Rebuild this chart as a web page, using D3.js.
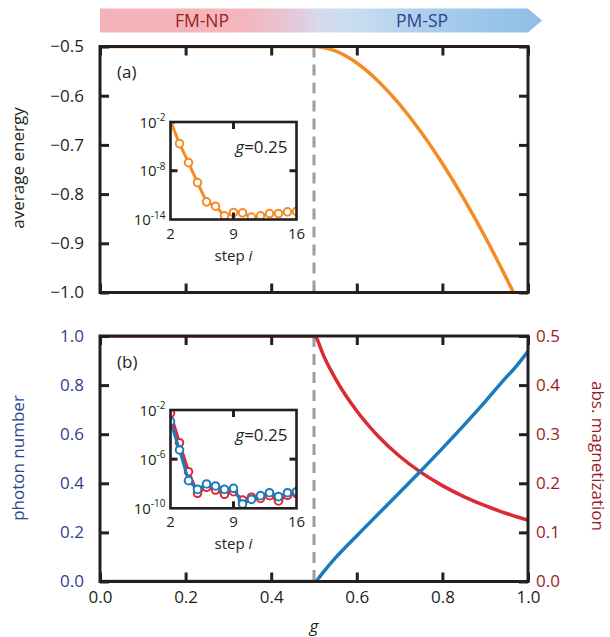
<!DOCTYPE html>
<html>
<head>
<meta charset="utf-8">
<script src="https://cdn.jsdelivr.net/npm/d3@7"></script>
<style>
  html, body { margin: 0; padding: 0; background: #fff; }
  svg { display: block; font-family: "Open Sans", "Noto Sans", sans-serif; }
</style>
</head>
<body>
<svg id="chart" width="610" height="637"></svg>
<script>
// ---- coupling grid and observables (main panels) ----
const gValues      = [0, 0.2, 0.4, 0.49, 0.5, 0.505, 0.51, 0.52, 0.55, 0.6, 0.65, 0.7, 0.75, 0.8, 0.85, 0.9, 0.95, 0.965, 1.0];
const avgEnergy    = [-0.5, -0.5, -0.5, -0.5, -0.5, -0.5001, -0.5004, -0.5016, -0.5091, -0.5336, -0.5704, -0.6176, -0.6736, -0.7377, -0.809, -0.8872, -0.9718, -0.998, -1.0625];
const photonNumber = [0, 0, 0, 0, 0, 0.002, 0.012, 0.034, 0.0959, 0.1864, 0.2746, 0.3625, 0.4514, 0.5424, 0.636, 0.7329, 0.8333, 0.8614, 0.9375];
const absMagnet    = [0.5, 0.5, 0.5, 0.5, 0.4998, 0.4975, 0.488, 0.465, 0.4132, 0.3472, 0.2959, 0.2551, 0.2222, 0.1953, 0.173, 0.1543, 0.1385, 0.1342, 0.125];
const criticalG = 0.5;

// ---- convergence vs. step i at g = 0.25 (insets), log10 of error ----
const steps        = [2, 3, 4, 5, 6, 7, 8, 9, 10, 11, 12, 13, 14, 15, 16];
const energyErrLog = [-1.9, -4.66, -7.0, -9.46, -11.83, -12.36, -13.55, -13.14, -13.18, -13.7, -13.55, -13.27, -13.27, -13.06, -13.0];
const magnErrLog   = [-2.27, -4.66, -7.02, -8.78, -8.29, -8.51, -8.86, -8.65, -9.32, -9.1, -9.2, -8.97, -9.4, -8.94, -8.8];
const photonErrLog = [-2.95, -5.25, -7.75, -8.46, -8.02, -8.18, -8.46, -8.37, -9.65, -9.27, -8.97, -8.73, -9.05, -8.73, -8.65];

// ---- tick labels ----
const xTicks      = [0, 0.2, 0.4, 0.6, 0.8, 1.0];
const energyTicks = [-0.5, -0.6, -0.7, -0.8, -0.9, -1.0];
const photonTicks = [0, 0.2, 0.4, 0.6, 0.8, 1.0];
const magnTicks   = [0, 0.1, 0.2, 0.3, 0.4, 0.5];
const insetXTicks = [2, 9, 16];
const insetAExp   = [-2, -8, -14];
const insetBExp   = [-2, -6, -10];
const phaseLabels = ["FM-NP", "PM-SP"];

// ---- colours ----
const INK = "#231f20";
const ORANGE = "#f58b25";
const BLUE = "#1c7bbd";
const RED = "#dc2a32";
const NAVY = "#2e4290";
const DARKRED = "#9b1c22";
const GREY = "#9d9d9f";

const svg = d3.select("#chart");
const defs = svg.append("defs");

// ---- geometry ----
const L = 100, R = 528;
const aTop = 46.5, aBot = 292.5;
const bTop = 336, bBot = 581.5;

const x = d3.scaleLinear().domain([0, 1]).range([L, R]);
const yE = d3.scaleLinear().domain([-1, -0.5]).range([aBot, aTop]);
const yN = d3.scaleLinear().domain([0, 1]).range([bBot, bTop]);
const yM = d3.scaleLinear().domain([0, 0.5]).range([bBot, bTop]);

// ---- phase arrow ----
const grad = defs.append("linearGradient").attr("id", "phaseGrad")
  .attr("x1", "0%").attr("x2", "100%").attr("y1", "0%").attr("y2", "0%");
[[0, "#f4b3b8"], [0.33, "#f4b6bc"], [0.45, "#e3cade"], [0.5, "#d6daee"], [0.57, "#c9ddf1"], [0.75, "#a9cdec"], [1, "#8dbee7"]]
  .forEach(([o, c]) => grad.append("stop").attr("offset", o).attr("stop-color", c));
svg.append("path")
  .attr("d", `M${L},8.5 H${R} L${R + 14},20.5 L${R},32.5 H${L} Z`)
  .attr("fill", "url(#phaseGrad)");
svg.append("text").attr("x", 202).attr("y", 27).attr("text-anchor", "middle")
  .attr("font-size", 17.5).attr("fill", DARKRED).text(phaseLabels[0]);
svg.append("text").attr("x", 422).attr("y", 27).attr("text-anchor", "middle")
  .attr("font-size", 17.5).attr("fill", NAVY).text(phaseLabels[1]);

// ---- clip paths ----
function clip(id, x0, y0, w, h) {
  defs.append("clipPath").attr("id", id).append("rect")
    .attr("x", x0).attr("y", y0).attr("width", w).attr("height", h);
}
clip("clipA", L, aTop, R - L, aBot - aTop);
clip("clipB", L, bTop, R - L, bBot - bTop);

const idx = d3.range(gValues.length);

// ---- panel (a) ----
svg.append("line").attr("x1", x(criticalG)).attr("x2", x(criticalG))
  .attr("y1", aTop).attr("y2", aBot)
  .attr("stroke", GREY).attr("stroke-width", 3).attr("stroke-dasharray", "11,7");
svg.append("path").attr("clip-path", "url(#clipA)")
  .attr("d", d3.line().x(i => x(gValues[i])).y(i => yE(avgEnergy[i])).curve(d3.curveMonotoneX)(idx))
  .attr("fill", "none").attr("stroke", ORANGE).attr("stroke-width", 3.5);

// ---- panel (b) ----
svg.append("line").attr("x1", x(criticalG)).attr("x2", x(criticalG))
  .attr("y1", bTop).attr("y2", bBot)
  .attr("stroke", GREY).attr("stroke-width", 3).attr("stroke-dasharray", "11,7");
svg.append("path").attr("clip-path", "url(#clipB)")
  .attr("d", d3.line().x(i => x(gValues[i])).y(i => yM(absMagnet[i])).curve(d3.curveMonotoneX)(idx))
  .attr("fill", "none").attr("stroke", RED).attr("stroke-width", 3.5);
svg.append("path").attr("clip-path", "url(#clipB)")
  .attr("d", d3.line().x(i => x(gValues[i])).y(i => yN(photonNumber[i])).curve(d3.curveMonotoneX)(idx))
  .attr("fill", "none").attr("stroke", BLUE).attr("stroke-width", 3.5);

// ---- frames and axes for main panels ----
function styleAxis(g, color) {
  g.select(".domain").remove();
  g.selectAll(".tick line").attr("stroke", INK).attr("stroke-width", 3);
  g.selectAll(".tick text").attr("fill", color).attr("font-size", 17)
    .attr("font-family", "'Open Sans', sans-serif");
}
const fmt1 = d3.format(".1f");
const inner = 9;

// panel a
svg.append("g").attr("transform", `translate(${L},0)`)
  .call(d3.axisLeft(yE).tickValues(energyTicks).tickFormat(d => fmt1(d)).tickSize(-inner).tickPadding(16))
  .call(g => styleAxis(g, INK));
svg.append("g").attr("transform", `translate(${R},0)`)
  .call(d3.axisRight(yE).tickValues(energyTicks).tickFormat("").tickSize(-inner))
  .call(g => styleAxis(g, INK));
svg.append("g").attr("transform", `translate(0,${aTop})`)
  .call(d3.axisTop(x).tickValues(xTicks).tickFormat("").tickSize(-inner))
  .call(g => styleAxis(g, INK));
svg.append("g").attr("transform", `translate(0,${aBot})`)
  .call(d3.axisBottom(x).tickValues(xTicks).tickFormat("").tickSize(-inner))
  .call(g => styleAxis(g, INK));
svg.append("rect").attr("x", L).attr("y", aTop).attr("width", R - L).attr("height", aBot - aTop)
  .attr("fill", "none").attr("stroke", INK).attr("stroke-width", 3);

// panel b
svg.append("g").attr("transform", `translate(${L},0)`)
  .call(d3.axisLeft(yN).tickValues(photonTicks).tickFormat(d => fmt1(d)).tickSize(-inner).tickPadding(16))
  .call(g => styleAxis(g, NAVY));
svg.append("g").attr("transform", `translate(${R},0)`)
  .call(d3.axisRight(yM).tickValues(magnTicks).tickFormat(d => fmt1(d)).tickSize(-inner).tickPadding(8))
  .call(g => styleAxis(g, DARKRED));
svg.append("g").attr("transform", `translate(0,${bTop})`)
  .call(d3.axisTop(x).tickValues(xTicks).tickFormat("").tickSize(-inner))
  .call(g => styleAxis(g, INK));
svg.append("g").attr("transform", `translate(0,${bBot})`)
  .call(d3.axisBottom(x).tickValues(xTicks).tickFormat(d => fmt1(d)).tickSize(-inner).tickPadding(9))
  .call(g => styleAxis(g, INK));
svg.append("rect").attr("x", L).attr("y", bTop).attr("width", R - L).attr("height", bBot - bTop)
  .attr("fill", "none").attr("stroke", INK).attr("stroke-width", 3);

// panel tags
svg.append("text").attr("x", 117).attr("y", 78).attr("font-size", 17).attr("fill", INK).text("(a)");
svg.append("text").attr("x", 117).attr("y", 368).attr("font-size", 17).attr("fill", INK).text("(b)");

// axis titles
svg.append("text").attr("transform", "translate(24,168) rotate(-90)").attr("text-anchor", "middle")
  .attr("font-size", 17).attr("fill", INK).text("average energy");
svg.append("text").attr("transform", "translate(24,458) rotate(-90)").attr("text-anchor", "middle")
  .attr("font-size", 17).attr("fill", NAVY).text("photon number");
svg.append("text").attr("transform", "translate(592,456) rotate(90)").attr("text-anchor", "middle")
  .attr("font-size", 17).attr("fill", DARKRED).text("abs. magnetization");
svg.append("text").attr("x", x(0.5)).attr("y", 632).attr("text-anchor", "middle")
  .attr("font-size", 17).attr("font-style", "italic").attr("fill", INK).text("g");

// ---- insets ----
function inset(top, bottom, expTicks, series, id) {
  const ix0 = 170.5, ix1 = 296.5;
  const sx = d3.scaleLinear().domain([2, 16]).range([ix0, ix1]);
  const sy = d3.scaleLinear().domain([expTicks[2], expTicks[0]]).range([bottom, top]);
  const g = svg.append("g");
  g.append("rect").attr("x", ix0).attr("y", top).attr("width", ix1 - ix0).attr("height", bottom - top).attr("fill", "#fff");
  defs.append("clipPath").attr("id", id).append("rect")
    .attr("x", ix0).attr("y", top).attr("width", ix1 - ix0).attr("height", bottom - top);
  const body = g.append("g").attr("clip-path", `url(#${id})`);
  series.forEach(s => {
    body.append("path")
      .attr("d", d3.line().x((d, i) => sx(steps[i])).y(d => sy(d))(s.values))
      .attr("fill", "none").attr("stroke", s.color).attr("stroke-width", 3);
    body.selectAll(null).data(s.values).join("circle")
      .attr("cx", (d, i) => sx(steps[i])).attr("cy", d => sy(d)).attr("r", 3.8)
      .attr("fill", "#fff").attr("stroke", s.color).attr("stroke-width", 2);
  });
  // ticks on all four sides
  const midX = sx(insetXTicks[1]), midY = sy(expTicks[1]);
  const t = 7;
  [[midX, top, midX, top + t], [midX, bottom, midX, bottom - t],
   [ix0, midY, ix0 + t, midY], [ix1, midY, ix1 - t, midY]].forEach(([a, b, c, d]) =>
    g.append("line").attr("x1", a).attr("y1", b).attr("x2", c).attr("y2", d)
      .attr("stroke", INK).attr("stroke-width", 3));
  g.append("rect").attr("x", ix0).attr("y", top).attr("width", ix1 - ix0).attr("height", bottom - top)
    .attr("fill", "none").attr("stroke", INK).attr("stroke-width", 2.6);
  // y tick labels 10^n
  expTicks.forEach(e => {
    const tx = g.append("text").attr("x", ix0 - 5).attr("y", sy(e) + 5.5).attr("text-anchor", "end")
      .attr("font-size", 15).attr("fill", INK);
    tx.append("tspan").text("10");
    tx.append("tspan").attr("dy", -6.5).attr("font-size", 10).text(String(e));
  });
  // x tick labels
  insetXTicks.forEach(v => g.append("text").attr("x", sx(v)).attr("y", bottom + 19).attr("text-anchor", "middle")
    .attr("font-size", 15).attr("fill", INK).text(v));
  const st = g.append("text").attr("x", (ix0 + ix1) / 2).attr("y", bottom + 41).attr("text-anchor", "middle")
    .attr("font-size", 15).attr("fill", INK);
  st.append("tspan").text("step ");
  st.append("tspan").attr("font-style", "italic").text("i");
  const gl = g.append("text").attr("x", ix1 - 9).attr("y", top + 31).attr("text-anchor", "end")
    .attr("font-size", 17).attr("fill", INK);
  gl.append("tspan").attr("font-style", "italic").text("g");
  gl.append("tspan").text("=0.25");
}
inset(122, 219.5, insetAExp, [{ values: energyErrLog, color: ORANGE }], "clipIA");
inset(410, 508.3, insetBExp, [{ values: magnErrLog, color: RED }, { values: photonErrLog, color: BLUE }], "clipIB");
</script>
</body>
</html>
